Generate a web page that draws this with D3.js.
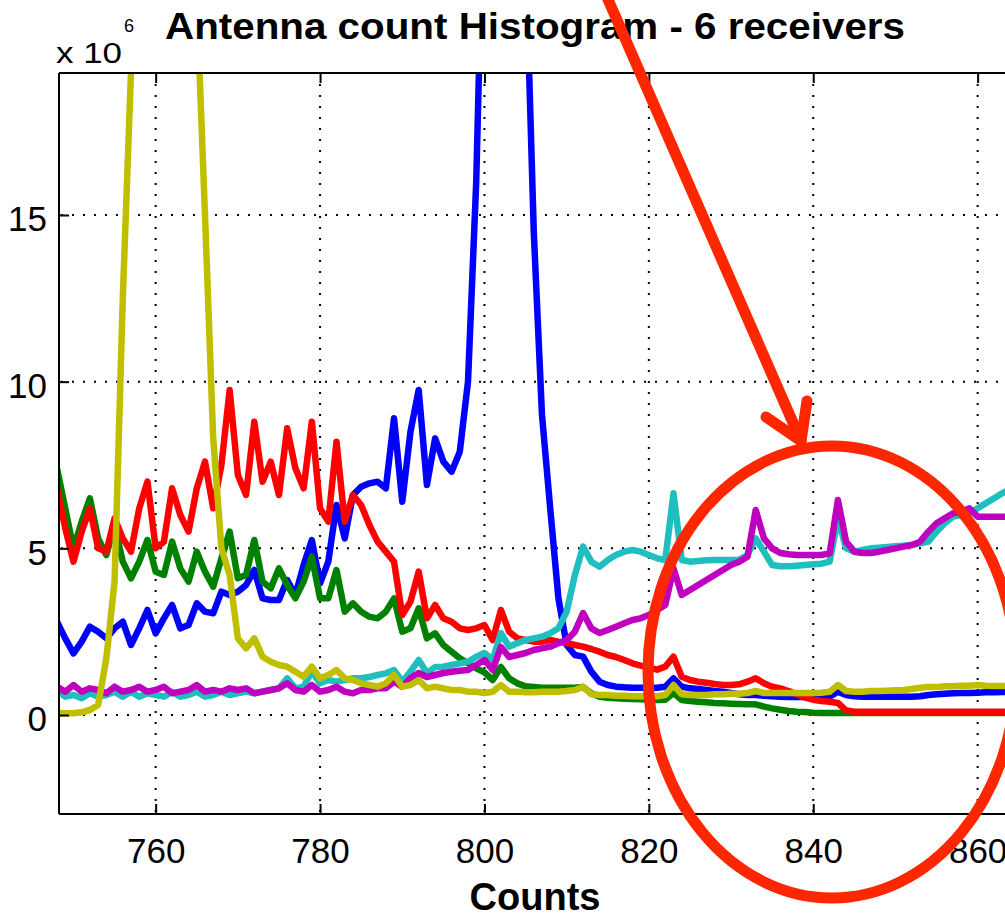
<!DOCTYPE html>
<html>
<head>
<meta charset="utf-8">
<script src="https://cdn.jsdelivr.net/npm/d3@7"></script>
<style>
  body { margin: 0; background: #fff; }
  svg { display: block; }
  text { font-family: "Liberation Sans", Arial, Helvetica, sans-serif; }
</style>
</head>
<body>
<svg id="chart" width="1005" height="919"></svg>
<script>
// Histogram bins: one value per integer count, starting at firstCount.
const firstCount = 748;

// Values in units of 10^6 for each receiver.
const blueCounts = [
  2.8, 2.3, 1.85, 2.2, 2.65, 2.5, 2.3, 2.6, 2.8, 2.1,
  2.6, 3.15, 2.45, 2.9, 3.3, 2.6, 2.7, 3.35, 3.1, 3.05,
  3.7, 3.6, 3.7, 3.9, 4.35, 3.5, 3.45, 3.45, 4.05, 3.6,
  4.5, 5.25, 3.95, 4.6, 6.3, 5.3, 6.6, 6.85, 6.95, 7.0,
  6.8, 8.9, 6.4, 8.5, 9.75, 6.9, 8.3, 7.6, 7.3, 7.9,
  10.0, 16.0, 26.0, 33.0, 36.0, 35.0, 30.0, 23.0, 14.5, 9.0,
  6.2, 3.5, 2.1, 1.8, 1.75, 1.3, 1.0, 0.9, 0.85, 0.83,
  0.82, 0.82, 0.82, 0.82, 0.85, 1.1, 0.85, 0.8, 0.78, 0.75,
  0.72, 0.7, 0.66, 0.62, 0.6, 0.6, 0.58, 0.56, 0.55, 0.54,
  0.54, 0.54, 0.54, 0.55, 0.55, 0.7, 0.6, 0.56, 0.55, 0.55,
  0.55, 0.55, 0.55, 0.55, 0.55, 0.56, 0.6, 0.62, 0.64, 0.65,
  0.66, 0.66, 0.67, 0.68, 0.68, 0.69, 0.7, 0.7
];

const greenCounts = [
  7.4, 6.2, 5.0, 5.8, 6.5, 5.3, 4.8, 5.7, 4.6, 4.1,
  4.6, 5.25, 4.3, 4.2, 5.2, 4.4, 4.0, 4.9, 4.3, 3.85,
  4.7, 5.5, 4.1, 4.2, 5.25, 4.0, 3.8, 4.4, 3.9, 3.5,
  4.0, 4.75, 3.5, 3.5, 4.35, 3.1, 3.35, 3.1, 2.95, 2.9,
  3.1, 3.5, 2.5, 2.6, 3.2, 2.3, 2.45, 2.1, 1.9, 1.7,
  1.55, 1.4, 1.28, 1.05, 1.44, 1.1, 0.95, 0.86, 0.84, 0.82,
  0.82, 0.82, 0.82, 0.82, 0.84, 0.65, 0.55, 0.52, 0.5, 0.49,
  0.48, 0.47, 0.46, 0.45, 0.46, 0.66, 0.45, 0.42, 0.4, 0.38,
  0.36, 0.35, 0.34, 0.33, 0.32, 0.32, 0.25, 0.2, 0.16, 0.12,
  0.1, 0.09, 0.07, 0.06, 0.06, 0.06, 0.06, 0.06, 0.06, 0.06,
  0.06, 0.06, 0.06, 0.06, 0.06, 0.06, 0.06, 0.06, 0.06, 0.06,
  0.06, 0.06, 0.06, 0.06, 0.06, 0.06, 0.06, 0.06
];

const redCounts = [
  6.8, 5.6, 4.6, 5.5, 6.2, 5.0, 4.9, 5.9, 5.3, 4.9,
  6.2, 7.0, 5.0, 5.2, 6.8, 6.0, 5.5, 6.8, 7.6, 6.2,
  7.5, 9.75, 7.2, 6.6, 8.8, 7.0, 7.6, 6.6, 8.6, 7.4,
  6.8, 8.8, 6.2, 5.8, 8.2, 5.8, 6.6, 6.3, 5.7, 5.2,
  4.9, 4.6, 3.0, 3.4, 4.3, 2.9, 3.3, 2.9, 2.8, 2.6,
  2.55, 2.6, 2.7, 2.25, 3.15, 2.5, 2.3, 2.25, 2.2, 2.2,
  2.25, 2.2, 2.16, 2.1, 2.05, 1.98, 1.9, 1.8, 1.74, 1.65,
  1.55, 1.48, 1.42, 1.36, 1.45, 1.75, 1.15, 1.05, 1.0, 0.97,
  0.93, 0.9, 0.9, 0.92, 1.0, 1.1, 0.95, 0.85, 0.8, 0.72,
  0.62, 0.52, 0.46, 0.42, 0.4, 0.36, 0.14, 0.1, 0.1, 0.1,
  0.1, 0.1, 0.1, 0.1, 0.1, 0.1, 0.1, 0.1, 0.1, 0.1,
  0.1, 0.1, 0.1, 0.1, 0.1, 0.1, 0.1, 0.1
];

const cyanCounts = [
  0.75, 0.55, 0.6, 0.5, 0.65, 0.55, 0.6, 0.7, 0.55, 0.7,
  0.55, 0.65, 0.6, 0.55, 0.7, 0.55, 0.6, 0.7, 0.55, 0.6,
  0.7, 0.6, 0.65, 0.7, 0.65, 0.7, 0.75, 0.8, 1.1, 0.8,
  0.85, 1.3, 0.95, 1.05, 1.0, 1.05, 1.1, 1.1, 1.14, 1.2,
  1.25, 1.35, 1.0, 1.3, 1.65, 1.26, 1.44, 1.45, 1.5, 1.55,
  1.6, 1.75, 1.86, 1.65, 2.46, 2.05, 2.15, 2.25, 2.3, 2.35,
  2.45, 2.6, 3.1, 4.2, 5.05, 4.6, 4.45, 4.65, 4.8, 4.9,
  4.95, 4.9, 4.8, 4.7, 4.65, 6.65, 4.65, 4.6, 4.62, 4.64,
  4.65, 4.65, 4.65, 4.66, 4.8, 5.3, 4.9, 4.5, 4.46, 4.46,
  4.48, 4.5, 4.52, 4.54, 4.6, 5.9, 5.0, 4.9, 4.95, 5.0,
  5.02, 5.04, 5.06, 5.08, 5.1, 5.15, 5.2, 5.5, 5.75, 5.95,
  6.0, 6.05, 6.2, 6.35, 6.5, 6.65, 6.8, 6.95
];

const magentaCounts = [
  0.85, 0.7, 0.9, 0.7, 0.8, 0.75, 0.65, 0.85, 0.7, 0.75,
  0.85, 0.7, 0.75, 0.85, 0.65, 0.7, 0.75, 0.9, 0.7, 0.75,
  0.7, 0.8, 0.75, 0.8, 0.65, 0.7, 0.75, 0.8, 0.95, 0.75,
  0.7, 0.9, 0.7, 0.75, 0.85, 0.7, 0.65, 0.75, 0.75, 0.8,
  0.8, 1.0, 0.85, 1.1, 1.26, 1.14, 1.2, 1.26, 1.3, 1.33,
  1.35, 1.5, 1.65, 1.35, 2.04, 1.74, 1.8, 1.86, 1.95, 2.0,
  2.05, 2.15, 2.25, 2.5, 3.06, 2.6, 2.46, 2.55, 2.65, 2.75,
  2.85, 2.9, 3.0, 3.15, 3.3, 4.4, 3.6, 3.75, 3.9, 4.05,
  4.2, 4.35, 4.5, 4.6, 4.75, 6.15, 5.3, 5.0, 4.86, 4.82,
  4.8, 4.8, 4.8, 4.8, 4.85, 6.45, 5.2, 4.9, 4.86, 4.86,
  4.9, 4.95, 5.0, 5.05, 5.1, 5.2, 5.5, 5.75, 5.9, 6.05,
  6.1, 6.2, 5.95, 5.95, 5.95, 5.95, 5.95, 5.95
];

const yellowCounts = [
  0.05, 0.05, 0.05, 0.08, 0.15, 0.3, 1.7, 4.0, 12.5, 19.3,
  25.0, 29.0, 31.5, 32.5, 31.5, 29.5, 26.0, 21.5, 15.0, 8.3,
  5.0, 4.2, 2.3, 2.0, 2.3, 1.75, 1.6, 1.5, 1.45, 1.3,
  1.15, 1.45, 1.1, 1.2, 1.35, 1.1, 1.05, 0.95, 0.9, 0.85,
  0.95, 1.2, 0.85, 0.9, 1.05, 0.8, 0.85, 0.8, 0.75, 0.75,
  0.7, 0.7, 0.66, 0.7, 0.9, 0.7, 0.7, 0.68, 0.68, 0.7,
  0.7, 0.7, 0.72, 0.75, 0.85, 0.62, 0.6, 0.6, 0.58, 0.58,
  0.56, 0.56, 0.56, 0.56, 0.6, 0.9, 0.62, 0.6, 0.6, 0.6,
  0.62, 0.62, 0.64, 0.64, 0.66, 0.72, 0.66, 0.66, 0.66, 0.66,
  0.66, 0.66, 0.66, 0.67, 0.7, 0.9, 0.72, 0.7, 0.7, 0.72,
  0.72, 0.73, 0.74, 0.75, 0.78, 0.82, 0.84, 0.84, 0.86, 0.86,
  0.88, 0.88, 0.9, 0.88, 0.87, 0.87, 0.87, 0.87
];

// Axis ticks
const xTickValues = [760, 780, 800, 820, 840, 860];
const yTickValues = [0, 5, 10, 15];

// Receivers in plotting order (later ones drawn on top)
const receivers = [
  { name: "rx1", color: "#0000ff", values: blueCounts },
  { name: "rx2", color: "#008000", values: greenCounts },
  { name: "rx3", color: "#ff0000", values: redCounts },
  { name: "rx4", color: "#1fbfbf", values: cyanCounts },
  { name: "rx5", color: "#bf00bf", values: magentaCounts },
  { name: "rx6", color: "#bfbf00", values: yellowCounts }
];

const svg = d3.select("#chart");
const plot = { left: 59, top: 73, right: 1011, bottom: 814 };

const x = d3.scaleLinear().domain([748.24, 864.06]).range([plot.left, plot.right]);
const y = d3.scaleLinear().domain([-2.97, 19.26]).range([plot.bottom, plot.top]);

svg.append("rect").attr("width", 1005).attr("height", 919).attr("fill", "#fff");

svg.append("defs").append("clipPath").attr("id", "plotClip")
  .append("rect")
  .attr("x", plot.left).attr("y", plot.top)
  .attr("width", plot.right - plot.left).attr("height", plot.bottom - plot.top);

// Dotted grid
const grid = svg.append("g").attr("stroke", "#000").attr("stroke-width", 2)
  .attr("stroke-dasharray", "2 9");
grid.selectAll("line.vx").data(xTickValues).join("line")
  .attr("x1", d => x(d)).attr("x2", d => x(d))
  .attr("y1", plot.bottom - 2).attr("y2", plot.top + 2);
grid.selectAll("line.hy").data(yTickValues).join("line")
  .attr("y1", d => y(d)).attr("y2", d => y(d))
  .attr("x1", plot.left + 2).attr("x2", plot.right);

// Data lines
const line = d3.line()
  .x((d, i) => x(firstCount + i))
  .y(d => y(d));

svg.append("g").attr("clip-path", "url(#plotClip)")
  .selectAll("path").data(receivers).join("path")
  .attr("d", r => line(r.values))
  .attr("fill", "none")
  .attr("stroke", r => r.color)
  .attr("stroke-width", 6.5)
  .attr("stroke-linejoin", "round")
  .attr("stroke-linecap", "butt");

// Axes (ticks point inward)
const tickFont = 35;
const xAxis = svg.append("g").attr("transform", `translate(0,${plot.bottom})`)
  .call(d3.axisBottom(x).tickValues(xTickValues).tickSizeInner(-10).tickSizeOuter(0).tickPadding(24));
const xTop = svg.append("g").attr("transform", `translate(0,${plot.top})`)
  .call(d3.axisTop(x).tickValues(xTickValues).tickSizeInner(-10).tickSizeOuter(0).tickFormat(""));
const yAxis = svg.append("g").attr("transform", `translate(${plot.left},0)`)
  .call(d3.axisLeft(y).tickValues(yTickValues).tickSizeInner(-10).tickSizeOuter(0).tickPadding(12));

[xAxis, xTop, yAxis].forEach(g => {
  g.select(".domain").remove();
  g.selectAll(".tick line").attr("stroke", "#000").attr("stroke-width", 2);
  g.selectAll(".tick text")
    .attr("fill", "#000")
    .style("font-family", '"Liberation Sans", Arial, Helvetica, sans-serif')
    .style("font-size", tickFont + "px");
});
yAxis.selectAll(".tick text").attr("dy", "0.45em");

// Axes box
const frame = svg.append("g").attr("stroke", "#000").attr("stroke-width", 2).attr("fill", "none");
frame.append("line").attr("x1", plot.left).attr("x2", plot.left).attr("y1", plot.top).attr("y2", plot.bottom);
frame.append("line").attr("x1", plot.left).attr("x2", plot.right).attr("y1", plot.top).attr("y2", plot.top);
frame.append("line").attr("x1", plot.left).attr("x2", plot.right).attr("y1", plot.bottom).attr("y2", plot.bottom);
frame.append("line").attr("x1", plot.right).attr("x2", plot.right).attr("y1", plot.top).attr("y2", plot.bottom);

// Exponent label
svg.append("text").attr("x", 56).attr("y", 63)
  .attr("textLength", 66).attr("lengthAdjust", "spacingAndGlyphs")
  .style("font-size", "29px").attr("fill", "#000").text("x 10");
svg.append("text").attr("x", 124).attr("y", 32)
  .style("font-size", "18px").attr("fill", "#000").text("6");

// Title and axis label
svg.append("text").attr("x", 535).attr("y", 39)
  .attr("text-anchor", "middle")
  .attr("textLength", 740).attr("lengthAdjust", "spacingAndGlyphs")
  .style("font-size", "36px").style("font-weight", "bold").attr("fill", "#000")
  .text("Antenna count Histogram - 6 receivers");

svg.append("text").attr("x", 535).attr("y", 910)
  .attr("text-anchor", "middle")
  .style("font-size", "38px").style("font-weight", "bold").attr("fill", "#000")
  .text("Counts");

// Highlight: arrow pointing at the tail region, and a ring around it
const mark = svg.append("g")
  .attr("stroke", "#ff2600").attr("stroke-width", 11).attr("fill", "none")
  .attr("stroke-linecap", "round").attr("stroke-linejoin", "round");
mark.append("path").attr("d", "M603,-12 L801,441");
mark.append("path").attr("d", "M766,417 L801,441 L807,401");
mark.append("ellipse")
  .attr("cx", 832).attr("cy", 672).attr("rx", 184).attr("ry", 226);
</script>
</body>
</html>
